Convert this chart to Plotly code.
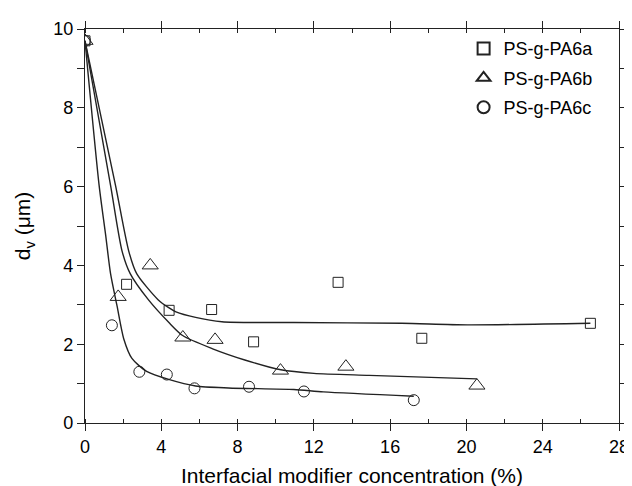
import plotly.graph_objects as go

# Measured data points
a_x = [0, 2.18, 4.41, 6.64, 8.84, 13.27, 17.66, 26.5]
a_y = [9.7, 3.52, 2.86, 2.88, 2.06, 3.57, 2.15, 2.53]
b_x = [0, 1.74, 3.42, 5.13, 6.82, 10.25, 13.68, 20.55]
b_y = [9.7, 3.2, 4.0, 2.17, 2.11, 1.33, 1.43, 0.95]
c_x = [0, 1.41, 2.85, 4.29, 5.74, 8.6, 11.48, 17.24]
c_y = [9.7, 2.48, 1.30, 1.23, 0.88, 0.92, 0.80, 0.58]

# Fit curves
fa_x = [0, 1.60, 2.29, 2.71, 3.83, 4.41, 4.77, 5.8, 7.18, 10.95, 16.6, 20.05, 26.5]
fa_y = [9.7, 6.03, 4.37, 3.79, 3.13, 2.92, 2.82, 2.68, 2.57, 2.55, 2.53, 2.49, 2.53]
fb_x = [0, 1.34, 1.94, 2.37, 3.32, 4.4, 5.12, 6.66, 8.38, 10.27, 12.0, 14.9, 20.55]
fb_y = [9.7, 6.03, 4.37, 3.79, 3.13, 2.55, 2.22, 1.89, 1.60, 1.35, 1.26, 1.21, 1.12]
fc_x = [0, 0.74, 1.08, 1.34, 1.68, 2.03, 2.46, 3.23, 4.43, 5.8, 7.52, 10.95, 12.5, 17.24]
fc_y = [9.7, 6.03, 4.78, 3.79, 2.97, 2.14, 1.64, 1.31, 1.10, 0.94, 0.89, 0.85, 0.79, 0.68]

names = ["PS-g-PA6a", "PS-g-PA6b", "PS-g-PA6c"]
x_ticks = [0, 4, 8, 12, 16, 20, 24, 28]
y_ticks = [0, 2, 4, 6, 8, 10]

col = "#222222"
font = "Liberation Sans, Arial, sans-serif"

fig = go.Figure()
for fx, fy in [(fa_x, fa_y), (fb_x, fb_y), (fc_x, fc_y)]:
    fig.add_trace(go.Scatter(x=fx, y=fy, mode="lines", showlegend=False,
                             line=dict(color=col, width=1.4, shape="spline", smoothing=0.7),
                             hoverinfo="skip"))

for xs, ys, nm, sym, sz in [(a_x, a_y, names[0], "square-open", 10),
                            (b_x, b_y, names[1], "triangle-up-open", 14),
                            (c_x, c_y, names[2], "circle-open", 11)]:
    fig.add_trace(go.Scatter(x=xs, y=ys, mode="markers", name=nm, legendgroup=nm,
                             marker=dict(symbol=sym, size=sz, color=col, line=dict(width=1, color=col))))

fig.update_layout(
    width=632, height=486,
    margin=dict(l=77, r=11, t=20, b=63),
    paper_bgcolor="white", plot_bgcolor="white",
    font=dict(family=font, size=18, color="black"),
    showlegend=True,
    legend=dict(x=0.709, y=0.997, xanchor="left", yanchor="top",
                bgcolor="rgba(0,0,0,0)", font=dict(size=18), itemwidth=30,
                itemsizing="constant", tracegroupgap=3),
)
fig.update_xaxes(
    range=[0, 28], tickvals=x_ticks, ticktext=[str(v) for v in x_ticks],
    showgrid=False, zeroline=False,
    showline=True, linecolor=col, linewidth=1.3, mirror="ticks",
    ticks="outside", ticklen=7, tickwidth=1.2, tickcolor=col,
    tickfont=dict(size=18),
    minor=dict(dtick=2, ticks="inside", ticklen=4, tickwidth=1.2, tickcolor=col, showgrid=False),
    title=dict(text="Interfacial modifier concentration (%)", font=dict(size=21), standoff=12),
)
fig.update_yaxes(
    range=[0, 10], tickvals=y_ticks, ticktext=[str(v) for v in y_ticks],
    showgrid=False, zeroline=False,
    showline=True, linecolor=col, linewidth=1.3, mirror="ticks",
    ticks="outside", ticklen=7, tickwidth=1.2, tickcolor=col,
    tickfont=dict(size=18),
    minor=dict(dtick=1, ticks="outside", ticklen=7, tickwidth=1.2, tickcolor=col, showgrid=False),
    title=dict(text="d<sub>v</sub> (μm)", font=dict(size=21), standoff=16),
)

fig.write_html("out.html")
